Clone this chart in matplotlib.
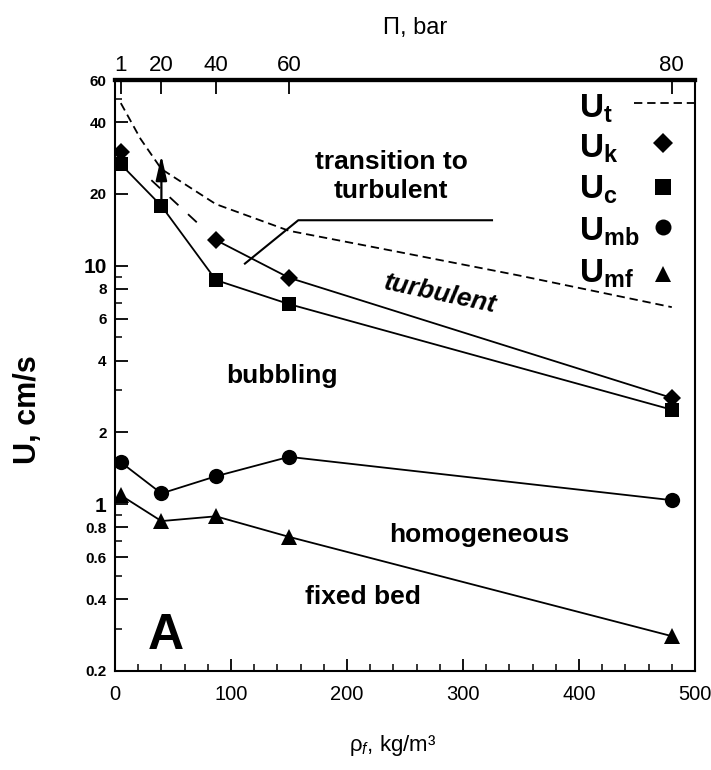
import numpy as np
import matplotlib
matplotlib.use('Agg')
import matplotlib.pyplot as plt
from matplotlib.ticker import FixedLocator, NullFormatter

plt.rcParams['font.family'] = ['Liberation Sans', 'DejaVu Sans']
plt.rcParams['mathtext.fontset'] = 'custom'
plt.rcParams['mathtext.rm'] = 'Liberation Sans'
plt.rcParams['mathtext.it'] = 'Liberation Sans:italic'
plt.rcParams['mathtext.bf'] = 'Liberation Sans:bold'
plt.rcParams['lines.scale_dashes'] = False

# data
pressure = [1, 20, 40, 60, 80]          # bar (top axis)
rho = [5, 40, 87, 150, 480]             # kg/m3 at those pressures
Uc = [26.6, 17.8, 8.7, 6.9, 2.49]
rho_k = [5, 87, 150, 480]
Uk = [30, 12.8, 8.9, 2.79]
Umb = [1.50, 1.11, 1.31, 1.58, 1.04]
Umf = [1.09, 0.85, 0.89, 0.73, 0.28]
rho_t = [5, 22, 40, 87, 150, 245, 348, 480]
Ut = [48, 34, 25.4, 18.1, 14.0, 11.4, 9.1, 6.7]
arrow_top = 29
leader_rho = [112, 158, 325]
leader_U = [10.2, 15.5, 15.5]

yticks_major = [0.2, 0.4, 0.6, 0.8, 1, 2, 4, 6, 8, 10, 20, 40, 60]
yticks_minor = [0.3, 0.5, 0.7, 0.9, 3, 5, 7, 9, 30, 50]

fig = plt.figure(figsize=(7.11, 7.70), dpi=100)
ax = fig.add_axes([115/711, 99/770, 580/711, 591/770])

lw = 1.3
ax.plot(rho_t, Ut, color='k', lw=lw, linestyle=(0, (6, 3.5)))
ax.plot(rho_k[:2], Uk[:2], color='k', lw=lw,
        linestyle=(0, (0.01, 30, 8.6, 9.4, 8.6, 9.4, 8.6, 100)))
ax.plot(rho_k[1:], Uk[1:], color='k', lw=lw)
ax.plot(rho_k, Uk, 'D', color='k', ms=9, mew=0)
ax.plot(rho, Uc, '-s', color='k', lw=lw, ms=10.5, mew=0)
ax.plot(rho, Umb, '-o', color='k', lw=lw, ms=11, mew=0)
ax.plot(rho, Umf, '-^', color='k', lw=lw, ms=11, mew=0)

# arrow at 20 bar
ax.annotate('', xy=(rho[1], arrow_top), xytext=(rho[1], Uc[1]),
            arrowprops=dict(arrowstyle='-|>,head_length=0.75,head_width=0.17',
                            color='k', lw=1.6, mutation_scale=20,
                            shrinkA=0, shrinkB=0))
# leader line for transition label
ax.plot(leader_rho, leader_U, color='k', lw=1.5)

ax.set_yscale('log')
ax.set_xlim(0, 500)
ax.set_ylim(0.2, 60)

ax.yaxis.set_major_locator(FixedLocator(yticks_major))
ax.yaxis.set_minor_locator(FixedLocator(yticks_minor))
ax.yaxis.set_minor_formatter(NullFormatter())
ax.set_yticklabels([('%g' % v) for v in yticks_major])
for t, v in zip(ax.get_yticklabels(), yticks_major):
    t.set_fontweight('bold')
    t.set_fontsize(15 if v in (1, 10) else 11)

ax.set_xticks([0, 100, 200, 300, 400, 500])
ax.set_xticks(np.arange(0, 501, 20), minor=True)
ax.tick_params(axis='x', which='major', direction='in', length=9, width=1.3,
               labelsize=14.5, pad=10, top=False)
ax.tick_params(axis='x', which='minor', direction='in', length=5, width=1.1, top=False)
ax.tick_params(axis='y', which='major', direction='in', length=9, width=1.3,
               pad=6, right=False)
ax.tick_params(axis='y', which='minor', direction='in', length=5, width=1.1, right=False)

for s in ['left', 'bottom', 'right']:
    ax.spines[s].set_linewidth(1.5)
ax.spines['top'].set_linewidth(3)

top = ax.secondary_xaxis('top')
top.set_xticks(rho)
top.set_xticklabels([str(p) for p in pressure])
top.tick_params(direction='in', length=10, width=1.3, labelsize=16, pad=3)
top.spines['top'].set_linewidth(3)

# region labels
ax.text(238, 23.7, 'transition to\nturbulent', ha='center', va='center',
        fontsize=19, fontweight='bold', linespacing=1.25)
ax.text(280, 7.6, 'turbulent', ha='center', va='center', fontsize=19,
        fontweight='bold', style='italic', rotation=-12)
ax.text(144, 3.45, 'bubbling', ha='center', va='center', fontsize=19, fontweight='bold')
ax.text(314, 0.74, 'homogeneous', ha='center', va='center', fontsize=19, fontweight='bold')
ax.text(214, 0.41, 'fixed bed', ha='center', va='center', fontsize=19, fontweight='bold')
ax.text(44, 0.28, 'A', ha='center', va='center', fontsize=36, fontweight='bold')

# legend drawn by hand, labels left of markers
labels = [r'$\mathbf{U_t}$', r'$\mathbf{U_k}$', r'$\mathbf{U_c}$',
          r'$\mathbf{U_{mb}}$', r'$\mathbf{U_{mf}}$']
label_y = [0.937, 0.868, 0.799, 0.728, 0.657]
for lab, yy in zip(labels, label_y):
    ax.text(0.800, yy, lab, transform=ax.transAxes, fontsize=24,
            ha='left', va='baseline')
ax.plot([0.894, 1.0], [0.961, 0.961], transform=ax.transAxes, color='k',
        lw=lw, linestyle=(0, (6, 3.5)), clip_on=False)
for m, yy, ms in zip(['D', 's', 'o', '^'], [0.893, 0.819, 0.751, 0.672],
                     [10, 11.5, 11.5, 12]):
    ax.plot([0.945], [yy], m, color='k', ms=ms, mew=0, transform=ax.transAxes)

fig.text(28/711, 1 - 410/770, 'U, cm/s', rotation=90, ha='center', va='center',
         fontsize=22, fontweight='bold')
fig.text(393/711, 1 - 745/770, 'ρ$_f$, kg/m³', ha='center', va='center',
         fontsize=16)
fig.text(415/711, 1 - 28/770, 'Π, bar', ha='center', va='center', fontsize=17)

fig.savefig('out.png', dpi=100)
